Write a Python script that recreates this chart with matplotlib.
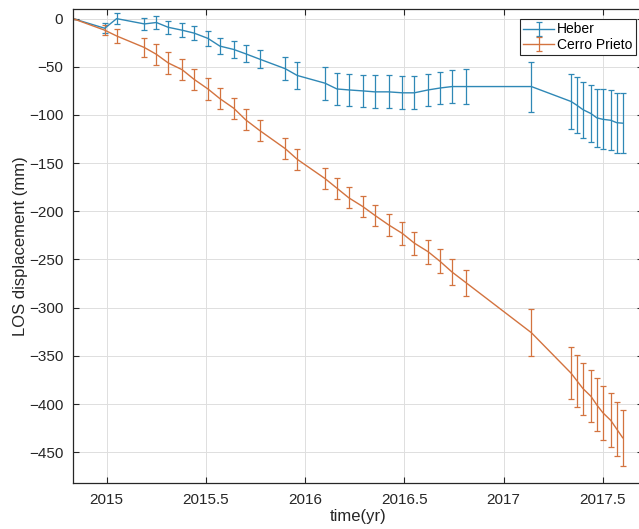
import numpy as np
import matplotlib
matplotlib.use('Agg')
import matplotlib.pyplot as plt

plt.rcParams['font.family'] = ['Liberation Sans', 'DejaVu Sans']

# acquisition times (yr), shared by both sites
t = [2014.83, 2014.99, 2015.05, 2015.19, 2015.25, 2015.31, 2015.38, 2015.44,
     2015.51, 2015.57, 2015.64, 2015.70, 2015.77, 2015.90, 2015.96, 2016.10,
     2016.16, 2016.22, 2016.29, 2016.35, 2016.42, 2016.49, 2016.55, 2016.62,
     2016.68, 2016.74, 2016.81, 2017.14, 2017.34, 2017.37, 2017.40, 2017.44,
     2017.47, 2017.50, 2017.54, 2017.57, 2017.60]

heber = [0, -10, 0, -5.5, -4, -9, -12, -15, -20.5, -28.5, -32, -36.5, -42,
         -52, -59, -67, -73, -74, -75, -76, -76, -77, -77, -74, -72, -70.5,
         -70.5, -70.5, -86, -90, -94.5, -98.5, -103, -104.5, -105.5, -108, -108.5]
heber_err = [0, 5, 5.5, 6, 6.5, 7, 7, 7.5, 8, 8.5, 8.5, 9, 9, 12, 14, 17,
             17, 17, 17, 17, 17, 17, 17, 17, 17, 17, 18, 26, 29, 29, 29, 30,
             30, 31, 31, 31, 31]

cerro = [0, -12, -18, -30, -37, -46, -53, -63, -73, -83, -93, -105, -116,
         -135, -146, -166, -176, -186, -195, -204, -214, -223, -233, -242,
         -252, -263, -274, -326, -368, -376, -384, -392, -401, -409, -417,
         -426, -435]
cerro_err = [0, 5, 7, 10, 11, 11, 11, 11, 11, 11, 11, 11, 11, 11, 11, 11,
             11, 11, 11, 11, 11.5, 12, 12, 12.5, 12.5, 13, 13.5, 24.5, 27, 27,
             27, 27, 27.5, 28, 28, 28, 29]

xticks = [2015, 2015.5, 2016, 2016.5, 2017, 2017.5]
xticklabels = ['2015', '2015.5', '2016', '2016.5', '2017', '2017.5']
yticks = list(range(0, -451, -50))

fig = plt.figure(figsize=(6.39, 5.29), dpi=100)
ax = fig.add_axes([73/639, 1 - 483/529, 569.5/639, 474/529])

blue = '#2f88b6'
orange = '#d3733f'
ax.errorbar(t, heber, yerr=heber_err, color=blue, lw=1.0, elinewidth=0.9,
            capsize=2.2, capthick=0.9, label='Heber')
ax.errorbar(t, cerro, yerr=cerro_err, color=orange, lw=1.0, elinewidth=0.9,
            capsize=2.2, capthick=0.9, label='Cerro Prieto')

ax.set_xlim(2014.83, 2017.7)
ax.set_ylim(-482, 10)
ax.set_xticks(xticks)
ax.set_xticklabels(xticklabels)
ax.set_yticks(yticks)
ax.grid(True, color='#dedede', lw=0.7)
ax.set_axisbelow(True)
ax.tick_params(direction='in', length=4, width=0.8, top=True, right=True,
               labelsize=11, colors='#262626', pad=7)
for s in ax.spines.values():
    s.set_color('#262626')
    s.set_linewidth(0.9)

ax.set_xlabel('time(yr)', fontsize=12, color='#262626', labelpad=2)
ax.set_ylabel('LOS displacement (mm)', fontsize=12, color='#262626', labelpad=1)

leg = ax.legend(loc='upper right', bbox_to_anchor=(0.988, 0.979),
                borderaxespad=0, fontsize=10, fancybox=False, framealpha=1,
                edgecolor='#262626', handlelength=2.2, handletextpad=0.2,
                borderpad=0.25, labelspacing=0.1)
leg.get_frame().set_linewidth(0.8)

fig.savefig('out.png', dpi=100)
